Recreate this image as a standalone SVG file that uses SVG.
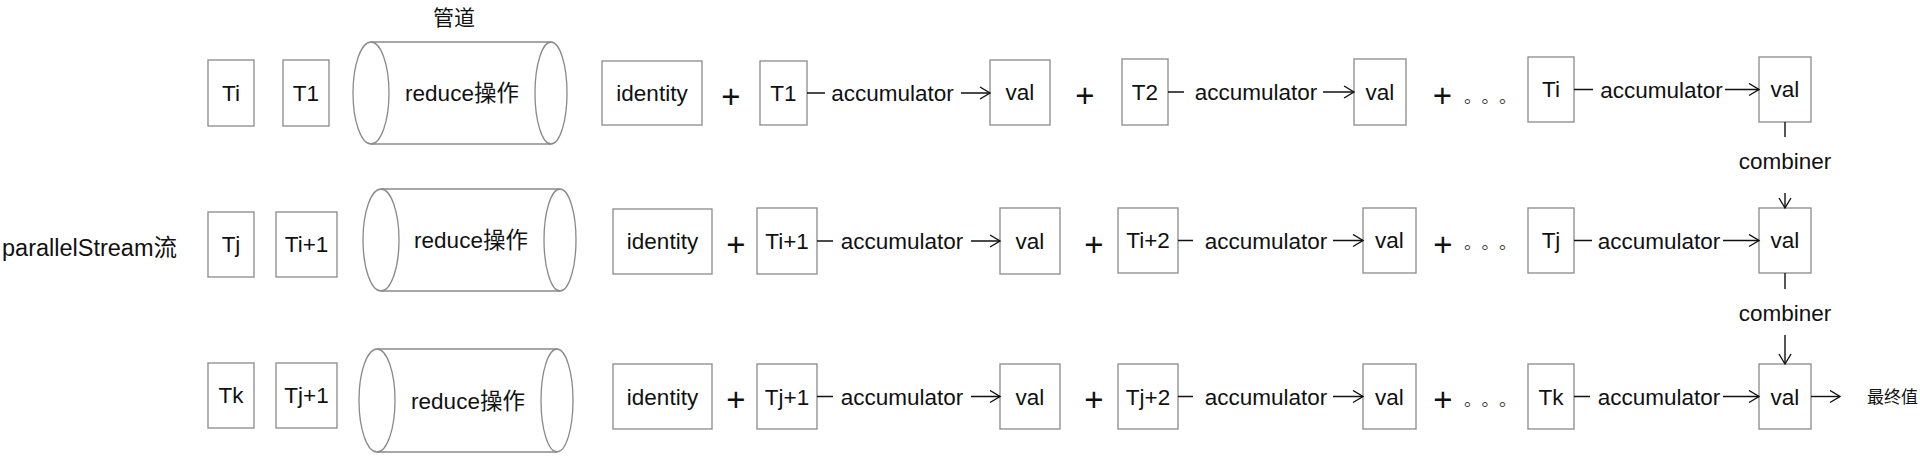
<svg xmlns="http://www.w3.org/2000/svg" width="1920" height="459" viewBox="0 0 1920 459">
<defs>
<style>
.b{fill:#fff;stroke:#8a8a8a;stroke-width:1.3}
.cy{fill:none;stroke:#8a8a8a;stroke-width:1.3}
.t{font-family:"Liberation Sans","Noto Sans CJK SC",sans-serif;font-size:22.5px;fill:#111;text-anchor:middle}
.p{font-family:"Liberation Sans",sans-serif;font-size:33px;fill:#111;text-anchor:middle}
.d{font-family:"Noto Sans CJK SC",sans-serif;font-size:17.5px;fill:#444;text-spacing-trim:space-all}
.c{fill:none;stroke:#111;stroke-width:1.4}
</style>
<marker id="ar" markerUnits="userSpaceOnUse" markerWidth="14" markerHeight="14" viewBox="0 0 14 14" refX="12" refY="7" orient="auto">
<path d="M2,1 L12,7 L2,13" fill="none" stroke="#111" stroke-width="1.4"/>
</marker>
</defs>
<rect width="1920" height="459" fill="#fff"/>

<text class="t" x="2" y="256" style="text-anchor:start;font-size:23.5px">parallelStream流</text>
<text class="t" x="454" y="25" style="font-size:21px">管道</text>

<!-- Row 1 -->
<g id="r1-ti"><rect class="b" x="208" y="60" width="46" height="66"/><text class="t" x="231" y="101">Ti</text></g>
<g id="r1-t1"><rect class="b" x="283" y="60" width="46" height="66"/><text class="t" x="306" y="101">T1</text></g>
<g id="r1-pipe"><line class="cy" x1="371" y1="42" x2="551" y2="42"/><line class="cy" x1="371" y1="144" x2="551" y2="144"/><ellipse class="cy" cx="371" cy="93" rx="18" ry="51"/><ellipse class="cy" cx="551" cy="93" rx="16" ry="51"/><text class="t" x="462" y="101">reduce操作</text></g>
<g id="r1-identity"><rect class="b" x="602" y="61" width="100" height="64"/><text class="t" x="652" y="101">identity</text></g>
<g id="r1-plus1"><text class="p" x="731" y="108">+</text></g>
<g id="r1-t1b"><rect class="b" x="760" y="61" width="47" height="64"/><text class="t" x="783.5" y="101">T1</text></g>
<g id="r1-val1"><rect class="b" x="990" y="60" width="60" height="65"/><text class="t" x="1020" y="100">val</text></g>
<g id="r1-plus2"><text class="p" x="1085" y="107">+</text></g>
<g id="r1-t2"><rect class="b" x="1122" y="59" width="46" height="66"/><text class="t" x="1145" y="100">T2</text></g>
<g id="r1-val2"><rect class="b" x="1354" y="59" width="52" height="66"/><text class="t" x="1380" y="100">val</text></g>
<g id="r1-plus3"><text class="p" x="1442.5" y="107">+</text><text class="d" x="1464 1481.5 1499" y="103">。。。</text></g>
<g id="r1-ti2"><rect class="b" x="1528" y="57" width="46" height="65"/><text class="t" x="1551" y="97">Ti</text></g>
<g id="r1-val3"><rect class="b" x="1759" y="57" width="52" height="65"/><text class="t" x="1785" y="97">val</text></g>

<!-- Row 2 -->
<g id="r2-tj"><rect class="b" x="208" y="212" width="46" height="65"/><text class="t" x="231" y="252">Tj</text></g>
<g id="r2-ti1"><rect class="b" x="276" y="212" width="61" height="65"/><text class="t" x="306.5" y="252">Ti+1</text></g>
<g id="r2-pipe"><line class="cy" x1="381" y1="189" x2="560" y2="189"/><line class="cy" x1="381" y1="291" x2="560" y2="291"/><ellipse class="cy" cx="381" cy="240" rx="18" ry="51"/><ellipse class="cy" cx="560" cy="240" rx="16" ry="51"/><text class="t" x="471" y="248">reduce操作</text></g>
<g id="r2-identity"><rect class="b" x="613" y="209" width="99" height="65"/><text class="t" x="662.5" y="249">identity</text></g>
<g id="r2-plus1"><text class="p" x="736" y="256">+</text></g>
<g id="r2-ti1b"><rect class="b" x="757" y="208" width="60" height="66"/><text class="t" x="787" y="249">Ti+1</text></g>
<g id="r2-val1"><rect class="b" x="1000" y="208" width="60" height="66"/><text class="t" x="1030" y="249">val</text></g>
<g id="r2-plus2"><text class="p" x="1094" y="256">+</text></g>
<g id="r2-ti2"><rect class="b" x="1118" y="208" width="60" height="65"/><text class="t" x="1148" y="248">Ti+2</text></g>
<g id="r2-val2"><rect class="b" x="1363" y="208" width="53" height="65"/><text class="t" x="1389.5" y="248">val</text></g>
<g id="r2-plus3"><text class="p" x="1443" y="256">+</text><text class="d" x="1464 1481.5 1499" y="249">。。。</text></g>
<g id="r2-tj2"><rect class="b" x="1528" y="208" width="46" height="65"/><text class="t" x="1551" y="248">Tj</text></g>
<g id="r2-val3"><rect class="b" x="1759" y="208" width="52" height="65"/><text class="t" x="1785" y="248">val</text></g>

<!-- Row 3 -->
<g id="r3-tk"><rect class="b" x="208" y="363" width="46" height="65"/><text class="t" x="231" y="403">Tk</text></g>
<g id="r3-tj1"><rect class="b" x="276" y="363" width="61" height="65"/><text class="t" x="306.5" y="403">Tj+1</text></g>
<g id="r3-pipe"><line class="cy" x1="377" y1="349" x2="557" y2="349"/><line class="cy" x1="377" y1="452" x2="557" y2="452"/><ellipse class="cy" cx="377" cy="400.5" rx="18" ry="51.5"/><ellipse class="cy" cx="557" cy="400.5" rx="16" ry="51.5"/><text class="t" x="468" y="408.5">reduce操作</text></g>
<g id="r3-identity"><rect class="b" x="613" y="364" width="99" height="65"/><text class="t" x="662.5" y="404.5">identity</text></g>
<g id="r3-plus1"><text class="p" x="736" y="411">+</text></g>
<g id="r3-tj1b"><rect class="b" x="757" y="364" width="60" height="65"/><text class="t" x="787" y="404.5">Tj+1</text></g>
<g id="r3-val1"><rect class="b" x="1000" y="364" width="60" height="65"/><text class="t" x="1030" y="404.5">val</text></g>
<g id="r3-plus2"><text class="p" x="1094" y="411">+</text></g>
<g id="r3-tj2"><rect class="b" x="1118" y="364" width="60" height="65"/><text class="t" x="1148" y="404.5">Tj+2</text></g>
<g id="r3-val2"><rect class="b" x="1363" y="364" width="53" height="65"/><text class="t" x="1389.5" y="404.5">val</text></g>
<g id="r3-plus3"><text class="p" x="1443" y="411">+</text><text class="d" x="1464 1481.5 1499" y="406">。。。</text></g>
<g id="r3-tk2"><rect class="b" x="1528" y="364" width="46" height="65"/><text class="t" x="1551" y="404.5">Tk</text></g>
<g id="r3-val3"><rect class="b" x="1759" y="364" width="52" height="65"/><text class="t" x="1785" y="404.5">val</text></g>
<g id="result"><text class="t" x="1867" y="403" style="text-anchor:start;font-size:17px">最终值</text></g>

<!-- Connectors -->
<g id="connectors">
<path class="c" d="M807,93 H825 M961,93 H990" marker-end="url(#ar)"/>
<path class="c" d="M1168,92 H1184 M1323,92 H1354" marker-end="url(#ar)"/>
<path class="c" d="M1574,89.5 H1593 M1725,89.5 H1759" marker-end="url(#ar)"/>
<path class="c" d="M817,241 H833 M971,241 H1000" marker-end="url(#ar)"/>
<path class="c" d="M1178,240.5 H1193 M1333,240.5 H1363" marker-end="url(#ar)"/>
<path class="c" d="M1574,240.5 H1592 M1723,240.5 H1759" marker-end="url(#ar)"/>
<path class="c" d="M817,396.5 H833 M971,396.5 H1000" marker-end="url(#ar)"/>
<path class="c" d="M1178,396.5 H1193 M1333,396.5 H1363" marker-end="url(#ar)"/>
<path class="c" d="M1574,396.5 H1590 M1723,396.5 H1759" marker-end="url(#ar)"/>
<path class="c" d="M1785,122 V137 M1785,193 V208" marker-end="url(#ar)"/>
<path class="c" d="M1785,273 V289 M1785,335 V364" marker-end="url(#ar)"/>
<path class="c" d="M1811,396.5 H1840" marker-end="url(#ar)"/>
<text class="t" x="892.5" y="101">accumulator</text>
<text class="t" x="1256" y="100">accumulator</text>
<text class="t" x="1661.5" y="97.5">accumulator</text>
<text class="t" x="902" y="249">accumulator</text>
<text class="t" x="1266" y="248.5">accumulator</text>
<text class="t" x="1659" y="248.5">accumulator</text>
<text class="t" x="902" y="404.5">accumulator</text>
<text class="t" x="1266" y="404.5">accumulator</text>
<text class="t" x="1659" y="404.5">accumulator</text>
<text class="t" x="1785" y="169">combiner</text>
<text class="t" x="1785" y="321">combiner</text>
</g>
</svg>
